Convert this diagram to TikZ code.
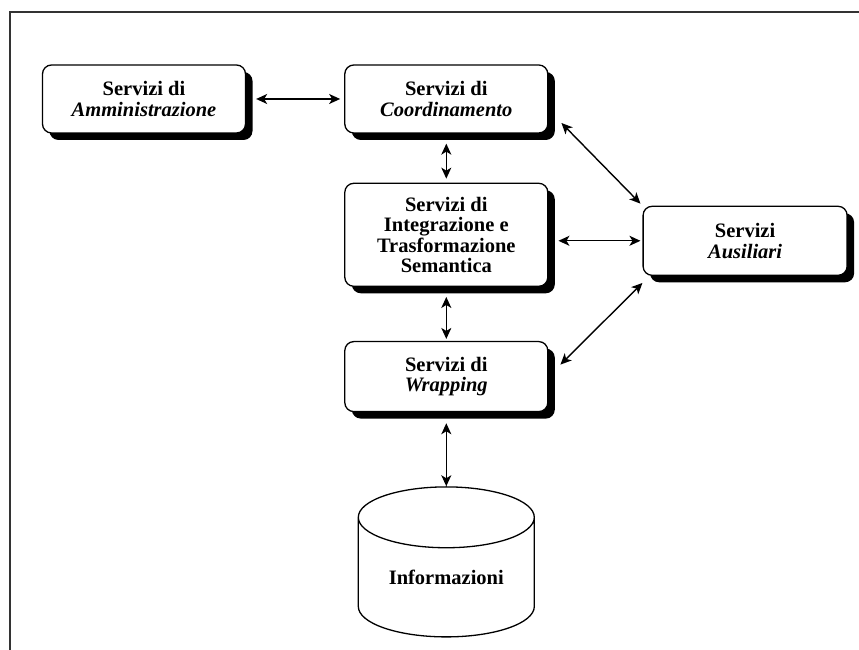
\documentclass[tikz,border=0pt]{standalone}
\usepackage{fontspec}
\setmainfont{Liberation Serif}
\usetikzlibrary{calc, positioning, arrows.meta, shadows, shapes.geometric}

\begin{document}
\begin{tikzpicture}[x=1pt, y=1pt, >={Stealth[length=11pt, width=10pt, inset=3pt]}, every node/.style={font=\fontsize{20.5}{20.5}\selectfont\bfseries}]
  \tikzset{servizio/.style={draw, line width=1.3pt, rounded corners=9pt, fill=white, minimum width=203pt, align=center,
      drop shadow={shadow xshift=7pt, shadow yshift=-7pt, fill=black, opacity=1}},
    freccia/.style={<->, line width=1.4pt}}
  \useasboundingbox (0,0) rectangle (859,650);
  % cornice
  \draw[line width=2pt, black!80] (9.5,0) |- (859,637.5);

  \node[servizio, minimum height=68pt] (adm) at (144,551) {Servizi di\\\textit{Amministrazione}};
  \node[servizio, minimum height=68pt, right=98pt of adm] (coord) {Servizi di\\\textit{Coordinamento}};
  \node[servizio, minimum height=103pt, below=49pt of coord] (integ) {Servizi di\\Integrazione e\\Trasformazione\\Semantica};
  \node[servizio, minimum height=70pt, below=54pt of integ] (wrap) {Servizi di\\\textit{Wrapping}};
  \node[servizio, minimum width=204pt, minimum height=69pt, right=94pt of integ, yshift=-6pt] (aus) {Servizi\\\textit{Ausiliari}};
  \node[cylinder, shape border rotate=90, draw, line width=1.3pt, aspect=0.5, minimum width=176pt, minimum height=150pt, below=74pt of wrap] (db) {\raisebox{9pt}{Informazioni}};

  \draw[freccia] ([xshift=10pt]adm.east) -- ([xshift=-4pt]coord.west);
  \draw[freccia] ([yshift=-10pt]coord.south) -- ([yshift=4pt]integ.north);
  \draw[freccia] ([yshift=-10pt]integ.south) -- ([yshift=2pt]wrap.north);
  \draw[freccia] ([yshift=-11pt]wrap.south) -- (db.north);

  % collegamenti con i servizi ausiliari
  \draw[freccia] ($(coord.east)+(13,-24)$) -- ($(aus.north west)+(-2,2)$);
  \draw[freccia] ($(integ.east |- aus.west)+(10,0)$) -- ($(aus.west)+(-2,0)$);
  \draw[freccia] ($(wrap.east)+(12,12)$) -- ($(aus.south west)+(0,-7)$);
\end{tikzpicture}
\end{document}
